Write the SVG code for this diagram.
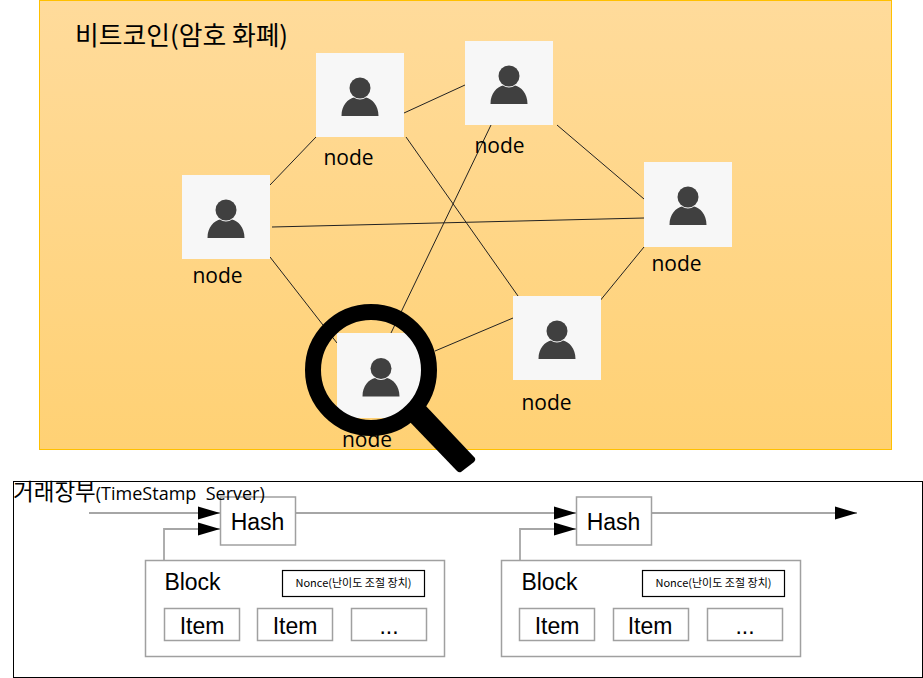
<svg xmlns="http://www.w3.org/2000/svg" width="923" height="678" viewBox="0 0 923 678">
<style>
.k{font-family:"Noto Sans CJK KR","Noto Sans",sans-serif;fill:#000}
.n{font-family:"Open Sans","Noto Sans",sans-serif;font-size:21px;fill:#000;text-anchor:middle}
.a{font-family:"Liberation Sans",Arial,sans-serif;font-size:23px;fill:#000;text-anchor:middle}
.box{fill:#fff;stroke:#a0a0a0;stroke-width:1.5}
.nb{fill:#fff;stroke:#000;stroke-width:1.2}
.net{stroke:#222;stroke-width:1;fill:none}
.flow{stroke:#a6a6a6;stroke-width:1.8;fill:none}
.bg{fill:#f7f7f7}
.ic{fill:#404040}
</style>
<defs>
<linearGradient id="g" x1="0" y1="0" x2="0" y2="1"><stop offset="0" stop-color="#ffdb9b"/><stop offset="1" stop-color="#ffd174"/></linearGradient>
<polygon id="ah" points="-22,-6.500 0,0 -22,6.500" fill="#000" stroke="none"/>
<g id="user"><circle cx="0" cy="35" r="10.500" class="ic"/><path class="ic" d="M-18.500 63C-18.500 52-12 46-6 44.500C-3 47 3 47 6 44.500C12 46 18.500 52 18.500 63Z"/></g>
</defs>
<rect id="panel" x="39.500" y="0.500" width="852" height="449" fill="url(#g)" stroke="#ffc000" stroke-width="1"/>
<text id="title" class="k" x="75" y="45" font-size="25.800">비트코인(암호 화폐)</text>
<g id="network-links" class="net">
<line x1="270" y1="185" x2="316" y2="137"/>
<line x1="404" y1="113" x2="465" y2="85"/>
<line x1="557" y1="125" x2="644" y2="199"/>
<line x1="272" y1="227" x2="644" y2="218"/>
<line x1="270" y1="257" x2="337" y2="343"/>
<line x1="406" y1="137" x2="518" y2="296"/>
<line x1="491" y1="125" x2="391" y2="333"/>
<line x1="644" y1="247" x2="599" y2="302"/>
<line x1="513" y1="318" x2="435" y2="351"/>
</g>
<g id="node-a"><rect class="bg" x="316" y="53" width="88" height="84"/><use href="#user" x="360" y="53"/><text class="n" x="348.500" y="165">node</text></g>
<g id="node-b"><rect class="bg" x="465" y="41" width="88" height="84"/><use href="#user" x="509" y="41"/><text class="n" x="499.500" y="153">node</text></g>
<g id="node-c"><rect class="bg" x="182" y="175" width="88" height="84"/><use href="#user" x="226" y="175"/><text class="n" x="217.500" y="283">node</text></g>
<g id="node-d"><rect class="bg" x="644" y="162" width="88" height="85"/><use href="#user" x="688" y="162"/><text class="n" x="676.500" y="271">node</text></g>
<g id="node-e"><rect class="bg" x="513" y="296" width="88" height="84"/><use href="#user" x="557" y="296"/><text class="n" x="546.500" y="410">node</text></g>
<g id="node-f"><rect class="bg" x="337" y="333" width="88" height="85"/><use href="#user" x="381" y="333.500"/><text class="n" x="367" y="446.500">node</text></g>
<g id="magnifier"><circle cx="371" cy="370" r="58" fill="none" stroke="#000" stroke-width="16"/><path d="M425 405L475 458Q476 460 474 462L461 472Q459 473 457 471L408 420Z" fill="#000"/></g>
<rect id="ledger" x="13.500" y="481.500" width="909" height="196" fill="#fff" stroke="#000" stroke-width="1"/>
<g id="connectors" class="flow">
<path d="M89 513H220"/><path d="M164 560V529H220"/>
<path d="M295 513H576"/><path d="M520 560V529H576"/>
<path d="M651 513H857"/>
<use href="#ah" x="220" y="513"/><use href="#ah" x="220" y="529"/>
<use href="#ah" x="576" y="513"/><use href="#ah" x="576" y="529"/>
<use href="#ah" x="857" y="513"/>
</g>
<g id="hash-1"><rect class="box" x="220.500" y="497" width="75" height="48"/><text class="a" x="257.500" y="530">Hash</text></g>
<g id="hash-2"><rect class="box" x="576.500" y="497" width="75" height="48"/><text class="a" x="613.500" y="530">Hash</text></g>
<g id="block-1"><rect class="box" x="145.500" y="560.500" width="299" height="96"/><text class="a" x="192.500" y="590">Block</text></g>
<g id="block-2"><rect class="box" x="501.500" y="560.500" width="299" height="96"/><text class="a" x="549.500" y="590">Block</text></g>
<g id="nonce-1"><rect class="nb" x="282.500" y="570.500" width="142" height="26"/><text class="k" x="353.500" y="587" font-size="11" text-anchor="middle">Nonce(난이도 조절 장치)</text></g>
<g id="nonce-2"><rect class="nb" x="642.500" y="570.500" width="142" height="26"/><text class="k" x="713.500" y="587" font-size="11" text-anchor="middle">Nonce(난이도 조절 장치)</text></g>
<g id="item-1"><rect class="box" x="164.500" y="608.500" width="75" height="32"/><text class="a" x="202" y="633.500">Item</text></g>
<g id="item-2"><rect class="box" x="257.500" y="608.500" width="75" height="32"/><text class="a" x="295" y="633.500">Item</text></g>
<g id="item-3"><rect class="box" x="351.500" y="608.500" width="75" height="32"/><text class="a" x="389" y="633.500">...</text></g>
<g id="item-4"><rect class="box" x="519.500" y="608.500" width="75" height="32"/><text class="a" x="557" y="633.500">Item</text></g>
<g id="item-5"><rect class="box" x="613.500" y="608.500" width="75" height="32"/><text class="a" x="650" y="633.500">Item</text></g>
<g id="item-6"><rect class="box" x="707.500" y="608.500" width="75" height="32"/><text class="a" x="745" y="633.500">...</text></g>
<text id="ledger-title" class="k" x="13" y="500" font-size="22.500" xml:space="preserve">거래장부<tspan font-family="'Open Sans',sans-serif" font-size="18">(TimeStamp  Server)</tspan></text>
</svg>
